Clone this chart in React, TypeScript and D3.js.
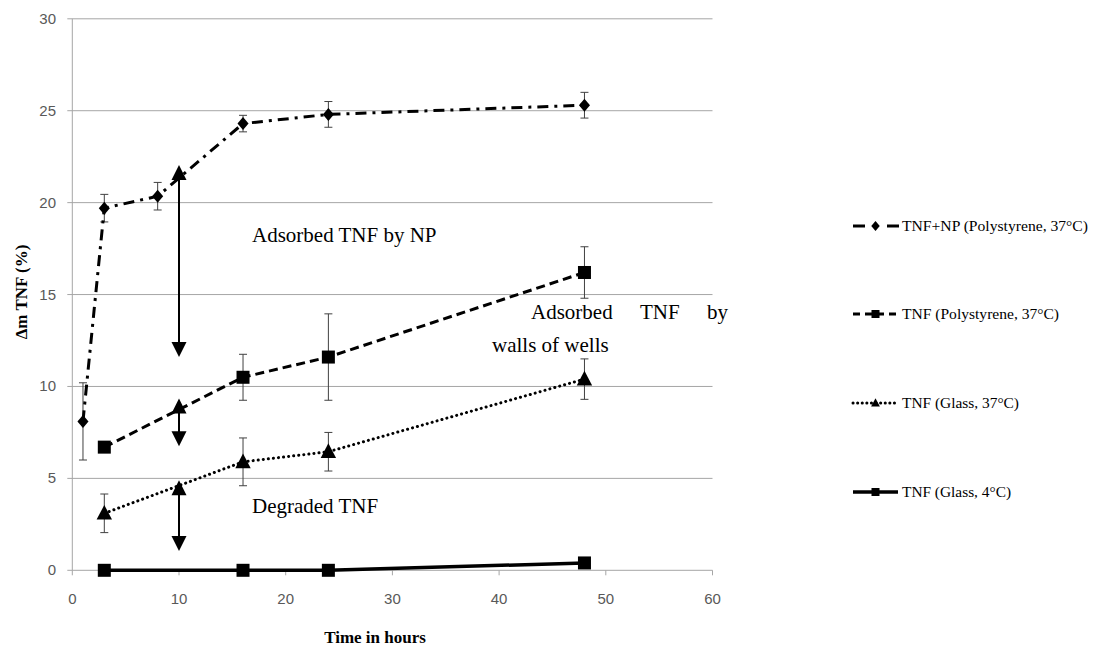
import React from "react";
import * as d3 from "d3";

const hoursNP = [1, 3, 8, 16, 24, 48];
const valuesNP = [8.1, 19.7, 20.35, 24.3, 24.8, 25.3];
const errNP = [2.1, 0.75, 0.75, 0.45, 0.7, 0.7];

const hoursPS = [3, 16, 24, 48];
const valuesPS = [6.7, 10.5, 11.6, 16.2];
const errPS = [0.2, 1.25, 2.35, 1.4];

const hoursG37 = [3, 16, 24, 48];
const valuesG37 = [3.1, 5.9, 6.45, 10.4];
const errG37 = [1.05, 1.3, 1.05, 1.1];

const hoursG4 = [3, 16, 24, 48];
const valuesG4 = [0, 0, 0, 0.4];

const xTicks = [0, 10, 20, 30, 40, 50, 60];
const yTicks = [0, 5, 10, 15, 20, 25, 30];

const arrowX = [10, 10, 10];
const arrowTop = [22.05, 9.35, 4.9];
const arrowBottom = [11.6, 6.75, 1.05];

const legendLabels = [
  "TNF+NP (Polystyrene, 37°C)",
  "TNF (Polystyrene, 37°C)",
  "TNF (Glass, 37°C)",
  "TNF (Glass, 4°C)",
];

type Series = {
  xs: number[];
  ys: number[];
  err: number[] | null;
  dash: string;
  cap: "butt" | "round";
  marker: "diamond" | "square" | "triangle";
  width: number;
};

const series: Series[] = [
  { xs: hoursNP, ys: valuesNP, err: errNP, dash: "11,6,3,6", cap: "butt", marker: "diamond", width: 3 },
  { xs: hoursPS, ys: valuesPS, err: errPS, dash: "9,5", cap: "butt", marker: "square", width: 3 },
  { xs: hoursG37, ys: valuesG37, err: errG37, dash: "0.1,5", cap: "round", marker: "triangle", width: 3 },
  { xs: hoursG4, ys: valuesG4, err: null, dash: "", cap: "butt", marker: "square", width: 3.5 },
];

function Marker({ kind, x, y, s }: { kind: string; x: number; y: number; s: number }) {
  if (kind === "square") {
    return <rect x={x - s / 2} y={y - s / 2} width={s} height={s} fill="#000" />;
  }
  if (kind === "diamond") {
    const r = s / 2 + 1;
    return <path d={`M${x},${y - r}L${x + r * 0.85},${y}L${x},${y + r}L${x - r * 0.85},${y}Z`} fill="#000" />;
  }
  const h = s;
  return <path d={`M${x},${y - h * 0.6}L${x + h * 0.55},${y + h * 0.45}L${x - h * 0.55},${y + h * 0.45}Z`} fill="#000" />;
}

export default function App() {
  const W = 1097;
  const H = 648;
  const x = d3.scaleLinear().domain([0, 60]).range([72.3, 712.5]);
  const y = d3.scaleLinear().domain([0, 30]).range([570.3, 18.8]);
  const line = d3
    .line<[number, number]>()
    .x((d) => x(d[0]))
    .y((d) => y(d[1]));

  const tickFont = "'Liberation Sans', Arial, sans-serif";
  const serif = "'Liberation Serif', 'Times New Roman', serif";

  const legendY = [226, 314, 403, 492];
  const legendTextW = [186, 157, 117, 109];

  return (
    <svg width={W} height={H} style={{ position: "absolute", left: 0, top: 0, background: "#fff" }}>
      <rect x={0} y={0} width={W} height={H} fill="#fff" />
      {/* grid */}
      {yTicks.map((t) => (
        <line key={"g" + t} x1={x(0) - 5} x2={x(60)} y1={y(t)} y2={y(t)} stroke="#a6a6a6" strokeWidth={1} />
      ))}
      <line x1={x(0)} x2={x(0)} y1={y(30)} y2={y(0)} stroke="#a6a6a6" strokeWidth={1} />
      {xTicks.map((t) => (
        <line key={"xt" + t} x1={x(t)} x2={x(t)} y1={y(0)} y2={y(0) + 5} stroke="#a6a6a6" strokeWidth={1} />
      ))}
      {yTicks.map((t) => (
        <text key={"yl" + t} x={56} y={y(t) + 5} textAnchor="end" fontFamily={tickFont} fontSize={15} fill="#595959">
          {t}
        </text>
      ))}
      {xTicks.map((t) => (
        <text key={"xl" + t} x={x(t)} y={604} textAnchor="middle" fontFamily={tickFont} fontSize={15} fill="#595959">
          {t}
        </text>
      ))}
      <text x={375} y={643} textAnchor="middle" fontFamily={serif} fontSize={17} fontWeight="bold" fill="#000">
        Time in hours
      </text>
      <text
        transform={`translate(27,${292}) rotate(-90)`}
        textAnchor="middle"
        fontFamily={serif}
        fontSize={17}
        fontWeight="bold"
        fill="#000"
      >
        Δm TNF (%)
      </text>

      {/* error bars */}
      {series.map((s, si) =>
        s.err
          ? s.xs.map((xv, i) => {
              const e = s.err![i];
              const cx = x(xv);
              return (
                <g key={`e${si}-${i}`} stroke="#404040" strokeWidth={1}>
                  <line x1={cx} x2={cx} y1={y(s.ys[i] + e)} y2={y(s.ys[i] - e)} />
                  <line x1={cx - 4} x2={cx + 4} y1={y(s.ys[i] + e)} y2={y(s.ys[i] + e)} />
                  <line x1={cx - 4} x2={cx + 4} y1={y(s.ys[i] - e)} y2={y(s.ys[i] - e)} />
                </g>
              );
            })
          : null
      )}

      {/* lines */}
      {series.map((s, si) => (
        <path
          key={"l" + si}
          d={line(s.xs.map((xv, i) => [xv, s.ys[i]] as [number, number])) || ""}
          fill="none"
          stroke="#000"
          strokeWidth={s.width}
          strokeDasharray={s.dash || undefined}
          strokeLinecap={s.cap}
        />
      ))}
      {series.map((s, si) =>
        s.xs.map((xv, i) => (
          <Marker
            key={`m${si}-${i}`}
            kind={s.marker}
            x={x(xv)}
            y={y(s.ys[i])}
            s={s.marker === "square" ? 13 : s.marker === "diamond" ? 11 : 14}
          />
        ))
      )}

      {/* arrows */}
      {arrowX.map((av, i) => {
        const cx = x(av);
        const yt = y(arrowTop[i]);
        const yb = y(arrowBottom[i]);
        const hw = 7.5;
        const hl = 15;
        return (
          <g key={"a" + i}>
            <line x1={cx} x2={cx} y1={yt + hl - 1} y2={yb - hl + 1} stroke="#000" strokeWidth={2} />
            <path d={`M${cx},${yt}L${cx + hw},${yt + hl}L${cx - hw},${yt + hl}Z`} fill="#000" />
            <path d={`M${cx},${yb}L${cx + hw},${yb - hl}L${cx - hw},${yb - hl}Z`} fill="#000" />
          </g>
        );
      })}

      {/* annotations */}
      <text x={252} y={242} fontFamily={serif} fontSize={21} fill="#000">
        Adsorbed TNF by NP
      </text>
      <text x={531} y={319} fontFamily={serif} fontSize={21} fill="#000">
        Adsorbed
      </text>
      <text x={640} y={319} fontFamily={serif} fontSize={21} fill="#000">
        TNF
      </text>
      <text x={707} y={319} fontFamily={serif} fontSize={21} fill="#000">
        by
      </text>
      <text x={492} y={352} fontFamily={serif} fontSize={21} fill="#000">
        walls of wells
      </text>
      <text x={252} y={513} fontFamily={serif} fontSize={21} fill="#000">
        Degraded TNF
      </text>

      {/* legend */}
      {legendLabels.map((lab, i) => {
        const s = series[i];
        const ly = legendY[i];
        return (
          <g key={"lg" + i}>
            {i === 0 ? (
              <g stroke="#000" strokeWidth={3}>
                <line x1={853} x2={865} y1={ly} y2={ly} />
                <line x1={887} x2={899} y1={ly} y2={ly} />
              </g>
            ) : (
              <line
                x1={853}
                x2={898}
                y1={ly}
                y2={ly}
                stroke="#000"
                strokeWidth={s.width}
                strokeDasharray={i === 1 ? "7,5" : i === 2 ? "0.1,4.5" : undefined}
                strokeLinecap={s.cap}
              />
            )}
            <Marker kind={s.marker} x={875.5} y={ly} s={8} />
            <text
              x={902}
              y={ly + 5}
              fontFamily={serif}
              fontSize={15}
              textLength={legendTextW[i]}
              lengthAdjust="spacingAndGlyphs"
              fill="#000"
            >
              {lab}
            </text>
          </g>
        );
      })}
    </svg>
  );
}
